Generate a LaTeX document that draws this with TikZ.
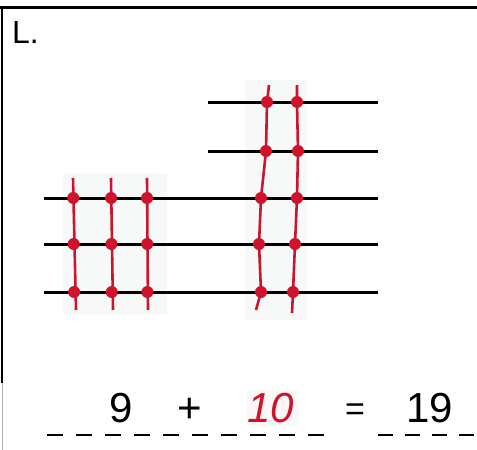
\documentclass[tikz,border=0pt]{standalone}
\usepackage{fontspec}
\setmainfont{Liberation Sans}
\definecolor{pen}{RGB}{205,20,45}
\definecolor{paper}{RGB}{247,249,249}

\begin{document}
\begin{tikzpicture}[x=1pt,y=-1pt,
    wire/.style={line width=3pt,black},
    string/.style={line width=2.6pt,pen},
    digit/.style={anchor=base,inner sep=0pt,font=\fontsize{42}{42}\selectfont}]
    \useasboundingbox (0,0) rectangle (477,450);
    % page frame
    \draw[line width=3pt] (0,7)--(477,7);
    \draw[line width=2.4pt] (2,7)--(2,383);
    \draw[line width=1pt,black!30] (2,383)--(2,450);
    \node[anchor=west,inner sep=0pt,font=\fontsize{32}{32}\selectfont] (lbl) at (12,32) {L.};
    % shaded card behind the beads
    \fill[paper] (63,173) rectangle (167,315);
    \fill[paper] (245,80) rectangle (307,320);
    % rods
    \foreach \y in {198,244,292}
      {\draw[wire] (44,\y)--(378,\y);}
    \foreach \y in {102,151}
      {\draw[wire] (208,\y)--(378,\y);}
    % three strings of three
    \foreach \x/\d in {73/3,111/2,147/1}
      {\draw[string] (\x,178)--(\x+\d,310);
       \foreach \y in {198,244,292}
         {\fill[pen] (\x+\d*\y/300-\d*0.6,\y) circle (6);}}
    % two strings of five
    \draw[string] (269,85)--(267,102)--(266,151)--(261,198)--(259,244)--(261,292)--(256,310);
    \draw[string] (297,85)--(297,102)--(298,151)--(297,198)--(295,244)--(293,292)--(292,313);
    \foreach \p in {(267,102),(266,151),(261,198),(259,244),(261,292),
                    (297,102),(298,151),(297,198),(295,244),(293,292)}
      {\fill[pen] \p circle (6);}
    % sum
    \node[digit] (nine) at (121,422) {9};
    \node[digit] (plus) at (190,422) {+};
    \fill[pen!4] (247,390) rectangle (298,426);
    \node[digit,pen,font=\fontsize{42}{42}\selectfont\itshape] (ten) at (271,422) {10};
    \node[digit,font=\fontsize{34}{34}\selectfont] (eq) at (355,420) {=};
    \node[digit] (sum) at (430,422) {19};
    \draw[line width=2.4pt,dash pattern=on 16pt off 13pt] (47,435)--(324,435);
    \draw[line width=2.4pt,dash pattern=on 15pt off 12pt] (378,435)--(474,435);
\end{tikzpicture}
\end{document}
